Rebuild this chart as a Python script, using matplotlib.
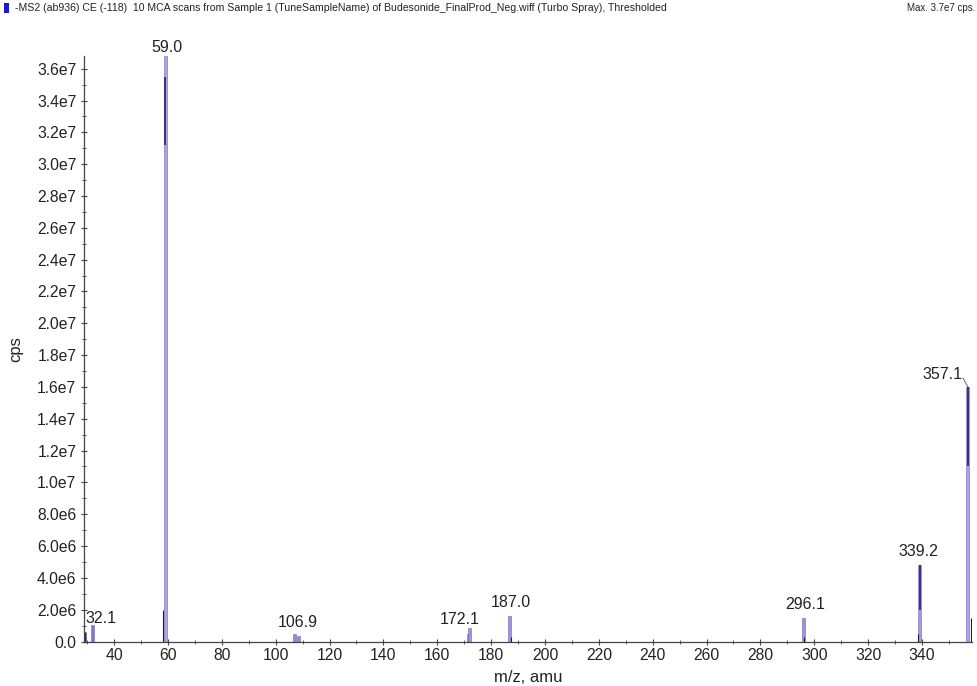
import matplotlib
matplotlib.use("Agg")
import matplotlib.pyplot as plt
from matplotlib.ticker import MultipleLocator, FuncFormatter
from matplotlib.patches import Rectangle

plt.rcParams['font.family'] = ['Liberation Sans', 'DejaVu Sans']

# ---- data ----
peak_mz = [29.0, 32.1, 59.0, 106.9, 108.6, 171.6, 172.1, 187.0, 296.1, 339.2, 357.1]
peak_cps = [0.6e6, 1.05e6, 3.68e7, 0.5e6, 0.36e6, 0.45e6, 0.83e6, 1.6e6, 1.5e6, 4.8e6, 1.6e7]
peak_colors = ['#1a1aa0', '#7f7ad0', '#aaa5e6', '#8f8ad8', '#8f8ad8', '#9a95dc', '#9a95dc',
               '#9a95dc', '#9a95dc', '#a29de2', '#aaa5e6']

# darker upper parts of the tallest peaks (overlaid scan)
dark_mz = [59.0, 339.2, 357.1]
dark_lo = [3.12e7, 2.0e6, 1.1e7]
dark_hi = [3.55e7, 4.8e6, 1.6e7]

trace_mz = [58.3, 187.3, 296.3, 338.6, 358.2]
trace_cps = [2.0e6, 0.3e6, 0.3e6, 0.5e6, 1.5e6]

label_mz = [32.1, 59.0, 106.9, 172.1, 187.0, 296.1, 339.2, 357.1]
label_cps = [1.05e6, 3.68e7, 0.5e6, 0.83e6, 1.6e6, 1.5e6, 4.8e6, 1.6e7]
label_text = ['32.1', '59.0', '106.9', '172.1', '187.0', '296.1', '339.2', '357.1']
# offsets in pixels (dx, dy) of label anchor relative to peak top
label_off = [(8, -1), (2, 1.5), (3, 4), (-10, 1), (1, 6.5), (1, 6), (-1, 6), (-6, 5)]
label_ha = ['center', 'center', 'center', 'center', 'center', 'center', 'center', 'right']

x_ticks = list(range(40, 341, 20))
xlim = (28.8, 358.6)
ylim = (0, 3.68e7)

header = ("-MS2 (ab936) CE (-118)  10 MCA scans from Sample 1 (TuneSampleName) of "
          "Budesonide_FinalProd_Neg.wiff (Turbo Spray), Thresholded")
header_right = "Max. 3.7e7 cps."

# ---- figure ----
W, H, DPI = 978, 686, 100
fig = plt.figure(figsize=(W / DPI, H / DPI), dpi=DPI)
ax = fig.add_axes([84 / W, 1 - 641.5 / H, (972 - 84) / W, (641.5 - 56) / H])

ax.bar(peak_mz, peak_cps, width=1.1, color=peak_colors, edgecolor='#6a66b8',
       linewidth=0.4, zorder=2)
ax.vlines(dark_mz, dark_lo, dark_hi, color='#2c2a70', linewidth=1.3, zorder=3)
ax.vlines(trace_mz, 0, trace_cps, color='#202020', linewidth=0.8, zorder=3)

px2pt = 72 / DPI
for x, y, t, (dx, dy), ha in zip(label_mz, label_cps, label_text, label_off, label_ha):
    ax.annotate(t, xy=(x, y), xytext=(dx * px2pt, dy * px2pt),
                textcoords='offset points', ha=ha, va='bottom',
                fontsize=11.5, color='#222222', annotation_clip=False, zorder=5)

# small leader for 357.1
ax.annotate('', xy=(357.1, 1.6e7), xytext=(-5 * px2pt, 9 * px2pt),
            textcoords='offset points',
            arrowprops=dict(arrowstyle='-', color='#777777', lw=0.8,
                            shrinkA=0, shrinkB=0))

ax.set_xlim(*xlim)
ax.set_ylim(*ylim)
ax.set_xticks(x_ticks)
ax.xaxis.set_minor_locator(MultipleLocator(10))
ax.yaxis.set_major_locator(MultipleLocator(2e6))
ax.yaxis.set_minor_locator(MultipleLocator(1e6))


def fmt(v, pos):
    if abs(v) < 1:
        return '0.0'
    s = f"{v:.1e}"
    m, e = s.split('e')
    return f"{m}e{int(e)}"


ax.yaxis.set_major_formatter(FuncFormatter(fmt))

for side in ['top', 'right']:
    ax.spines[side].set_visible(False)
for side in ['left', 'bottom']:
    ax.spines[side].set_color('#444444')
    ax.spines[side].set_linewidth(0.9)

ax.tick_params(axis='both', which='major', direction='inout', length=5, width=0.8,
               color='#444444', labelsize=11.3, labelcolor='#222222', pad=2)
ax.tick_params(axis='y', which='major', pad=3)
ax.tick_params(axis='both', which='minor', direction='inout', length=3, width=0.6,
               color='#444444')

ax.set_xlabel('m/z, amu', fontsize=12, color='#222222', labelpad=5)
ax.set_ylabel('cps', fontsize=12, color='#222222', labelpad=10)

# header
fig.patches.append(Rectangle((4 / W, 1 - 13 / H), 5 / W, 10 / H, transform=fig.transFigure,
                             facecolor='#1a1acc', edgecolor='none'))
fig.text(15 / W, 1 - 8 / H, header, fontsize=7.6, color='#222222', va='center', ha='left')
fig.text(975 / W, 1 - 8 / H, header_right, fontsize=7, color='#222222', va='center', ha='right')

fig.savefig('out.png', dpi=DPI)
